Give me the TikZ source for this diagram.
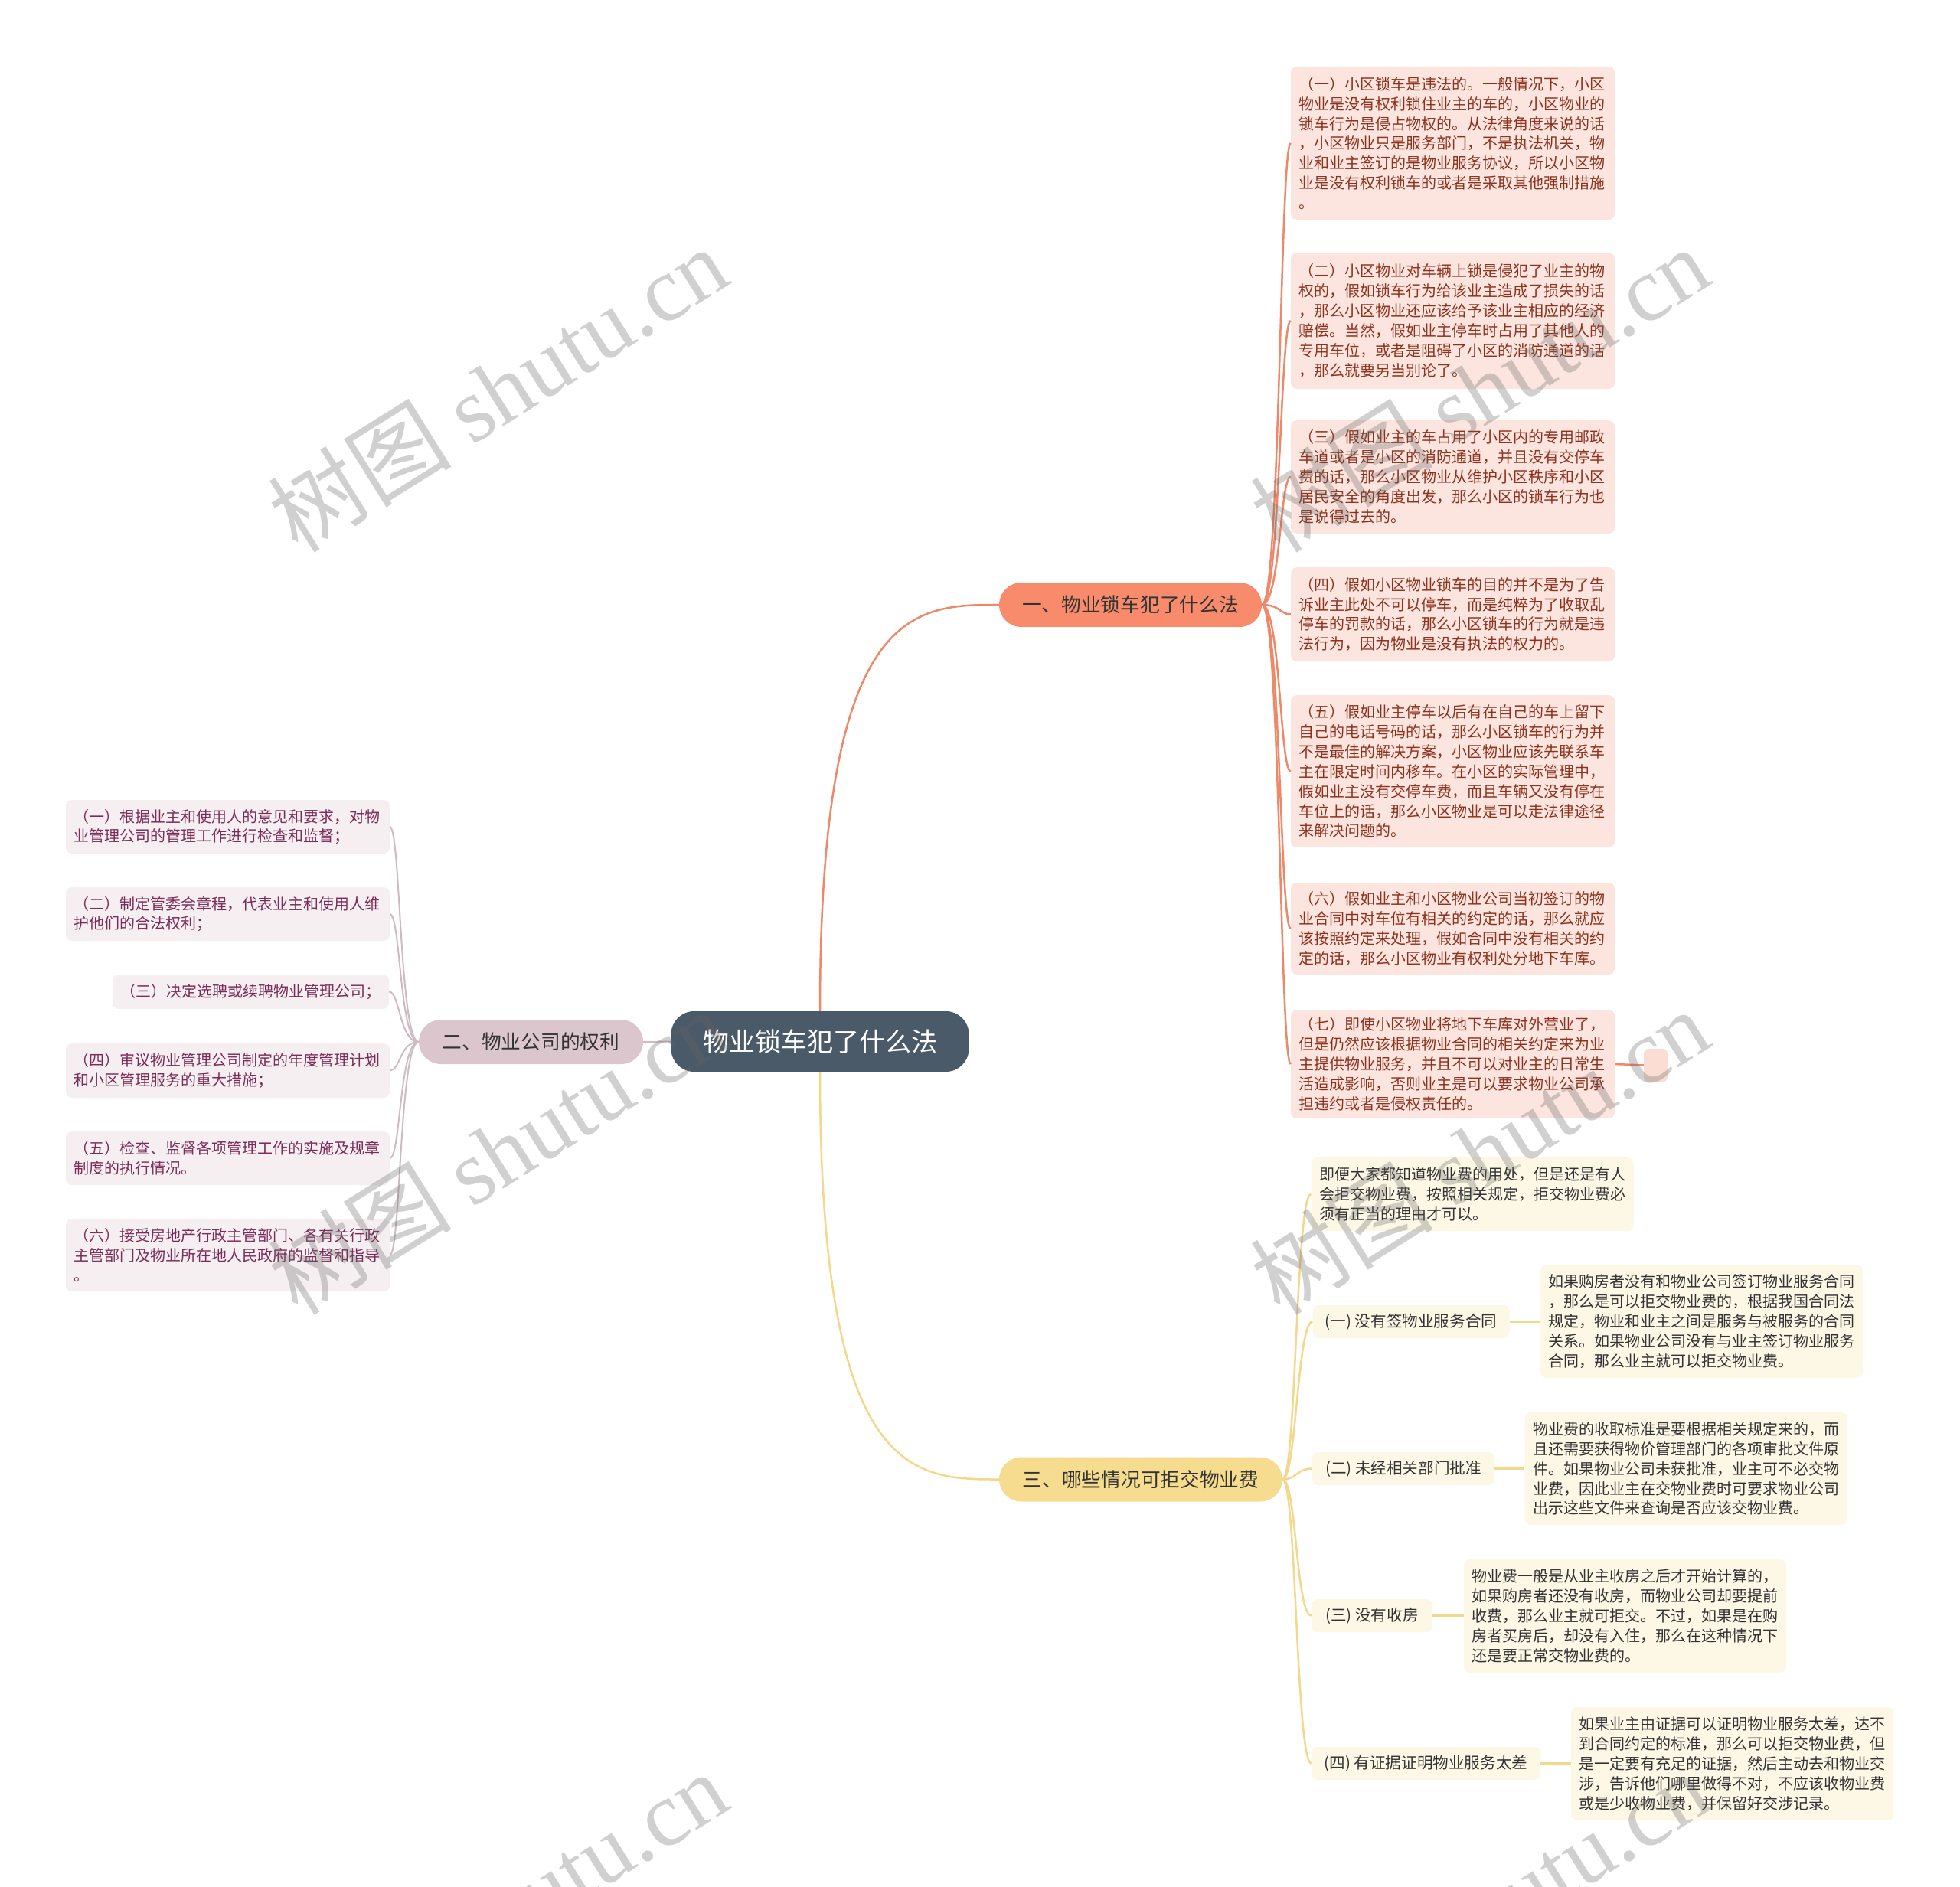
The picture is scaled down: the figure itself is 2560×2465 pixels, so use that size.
\documentclass[tikz,border=0pt]{standalone}
\usepackage{fontspec}
\setmainfont{Noto Sans CJK SC}
\newfontfamily\wmlatin{Liberation Serif}
\usetikzlibrary{positioning}
\definecolor{cRoot}{HTML}{4B5A69}
\definecolor{cTopicA}{HTML}{F98B6D}
\definecolor{cTopicB}{HTML}{DBC6CE}
\definecolor{cTopicC}{HTML}{F6DC8F}
\definecolor{cLockFill}{HTML}{FCE5DF}
\definecolor{cLockText}{HTML}{8C321E}
\definecolor{cRightFill}{HTML}{F6EFF1}
\definecolor{cRightText}{HTML}{7A2D57}
\definecolor{cFeeFill}{HTML}{FDF7E6}
\definecolor{cFeeText}{HTML}{333333}
\definecolor{cLockLine}{HTML}{EE8868}
\definecolor{cRightLine}{HTML}{CDBAC3}
\definecolor{cFeeLine}{HTML}{F3D78B}
\definecolor{cTail}{HTML}{FBDDD4}

\begin{document}
\begin{tikzpicture}[x=1pt,y=-1pt,
 every node/.style={font=\fontsize{20}{25.9}\selectfont,inner sep=0pt},
 root/.style={fill=cRoot,text=white,rounded corners=30pt,minimum width=389pt,minimum height=79pt,font=\fontsize{34}{40}\selectfont},
 topic/.style={rounded corners=29pt,minimum height=58pt,text=cFeeText,font=\fontsize{25.7}{30}\selectfont},
 note/.style={rounded corners=8pt,align=left,text width=402pt,inner xsep=10.5pt},
 lockbox/.style={note,fill=cLockFill,text=cLockText},
 rightbox/.style={note,fill=cRightFill,text=cRightText},
 feebox/.style={note,fill=cFeeFill,text=cFeeText,text width=400pt},
 feeitem/.style={fill=cFeeFill,text=cFeeText,rounded corners=8pt,minimum height=43pt,font=\fontsize{20.6}{25.9}\selectfont},
 lockline/.style={draw=cLockLine,line width=2.5pt},
 rightline/.style={draw=cRightLine,line width=2pt},
 feeline/.style={draw=cFeeLine,line width=2.5pt},
 wm/.style={rotate=32,text=black!60,text opacity=.3,font=\fontsize{120}{126}\selectfont}]

\useasboundingbox (0,0) rectangle (2560,2465);
\fill[white] (0,0) rectangle (2560,2465);

% main topics
\node[root] (root) at (1071,1360.5) {物业锁车犯了什么法};
\node[topic,fill=cTopicA,minimum width=343pt] (lock) at (1476.5,790) {一、物业锁车犯了什么法};
\node[topic,fill=cTopicB,minimum width=293pt] (right) at (693.5,1361) {二、物业公司的权利};
\node[topic,fill=cTopicC,minimum width=370pt] (fee) at (1490,1932.5) {三、哪些情况可拒交物业费};

% branch one
\node[lockbox,minimum height=200pt] (lock1) at (1897.5,187) {
 （一）小区锁车是违法的。一般情况下，小区\\
 物业是没有权利锁住业主的车的，小区物业的\\
 锁车行为是侵占物权的。从法律角度来说的话\\
 ，小区物业只是服务部门，不是执法机关，物\\
 业和业主签订的是物业服务协议，所以小区物\\
 业是没有权利锁车的或者是采取其他强制措施\\
 。};
\node[lockbox,minimum height=178pt] (lock2) at (1897.5,419) {
 （二）小区物业对车辆上锁是侵犯了业主的物\\
 权的，假如锁车行为给该业主造成了损失的话\\
 ，那么小区物业还应该给予该业主相应的经济\\
 赔偿。当然，假如业主停车时占用了其他人的\\
 专用车位，或者是阻碍了小区的消防通道的话\\
 ，那么就要另当别论了。};
\node[lockbox,minimum height=148pt] (lock3) at (1897.5,623) {
 （三）假如业主的车占用了小区内的专用邮政\\
 车道或者是小区的消防通道，并且没有交停车\\
 费的话，那么小区物业从维护小区秩序和小区\\
 居民安全的角度出发，那么小区的锁车行为也\\
 是说得过去的。};
\node[lockbox,minimum height=123pt] (lock4) at (1897.5,802.5) {
 （四）假如小区物业锁车的目的并不是为了告\\
 诉业主此处不可以停车，而是纯粹为了收取乱\\
 停车的罚款的话，那么小区锁车的行为就是违\\
 法行为，因为物业是没有执法的权力的。};
\node[lockbox,minimum height=199pt] (lock5) at (1897.5,1007.5) {
 （五）假如业主停车以后有在自己的车上留下\\
 自己的电话号码的话，那么小区锁车的行为并\\
 不是最佳的解决方案，小区物业应该先联系车\\
 主在限定时间内移车。在小区的实际管理中，\\
 假如业主没有交停车费，而且车辆又没有停在\\
 车位上的话，那么小区物业是可以走法律途径\\
 来解决问题的。};
\node[lockbox,minimum height=120pt] (lock6) at (1897.5,1213) {
 （六）假如业主和小区物业公司当初签订的物\\
 业合同中对车位有相关的约定的话，那么就应\\
 该按照约定来处理，假如合同中没有相关的约\\
 定的话，那么小区物业有权利处分地下车库。};
\node[lockbox,minimum height=142pt] (lock7) at (1897.5,1390) {
 （七）即使小区物业将地下车库对外营业了，\\
 但是仍然应该根据物业合同的相关约定来为业\\
 主提供物业服务，并且不可以对业主的日常生\\
 活造成影响，否则业主是可以要求物业公司承\\
 担违约或者是侵权责任的。};
\node[fill=cTail,rounded corners=6pt,minimum width=31pt,minimum height=43pt] (tail) at (2162.5,1391.5) {};

% branch two
\node[rightbox,minimum height=70pt] (right1) at (297.5,1080) {
 （一）根据业主和使用人的意见和要求，对物\\
 业管理公司的管理工作进行检查和监督；};
\node[rightbox,minimum height=70pt] (right2) at (297.5,1194) {
 （二）制定管委会章程，代表业主和使用人维\\
 护他们的合法权利；};
\node[rightbox,text width=340pt,minimum height=45pt] (right3) at (327.5,1295.5) {
 （三）决定选聘或续聘物业管理公司；};
\node[rightbox,minimum height=71pt] (right4) at (297.5,1398.5) {
 （四）审议物业管理公司制定的年度管理计划\\
 和小区管理服务的重大措施；};
\node[rightbox,minimum height=70pt] (right5) at (297.5,1513) {
 （五）检查、监督各项管理工作的实施及规章\\
 制度的执行情况。};
\node[rightbox,minimum height=95pt] (right6) at (297.5,1639.5) {
 （六）接受房地产行政主管部门、各有关行政\\
 主管部门及物业所在地人民政府的监督和指导\\
 。};

% branch three
\node[feebox,minimum height=96pt] (fee0) at (1923,1560) {
 即便大家都知道物业费的用处，但是还是有人\\
 会拒交物业费，按照相关规定，拒交物业费必\\
 须有正当的理由才可以。};
\node[feeitem,minimum width=257pt] (fee1) at (1843,1726.5) {(一) 没有签物业服务合同};
\node[feeitem,minimum width=238pt] (fee2) at (1833,1918.5) {(二) 未经相关部门批准};
\node[feeitem,minimum width=158pt] (fee3) at (1792,2110.5) {(三) 没有收房};
\node[feeitem,minimum width=299pt] (fee4) at (1862.5,2303.5) {(四) 有证据证明物业服务太差};
\node[feebox,minimum height=148pt] (det1) at (2222.5,1726) {
 如果购房者没有和物业公司签订物业服务合同\\
 ，那么是可以拒交物业费的，根据我国合同法\\
 规定，物业和业主之间是服务与被服务的合同\\
 关系。如果物业公司没有与业主签订物业服务\\
 合同，那么业主就可以拒交物业费。};
\node[feebox,minimum height=147pt] (det2) at (2202,1918.5) {
 物业费的收取标准是要根据相关规定来的，而\\
 且还需要获得物价管理部门的各项审批文件原\\
 件。如果物业公司未获批准，业主可不必交物\\
 业费，因此业主在交物业费时可要求物业公司\\
 出示这些文件来查询是否应该交物业费。};
\node[feebox,minimum height=148pt] (det3) at (2122.5,2111) {
 物业费一般是从业主收房之后才开始计算的，\\
 如果购房者还没有收房，而物业公司却要提前\\
 收费，那么业主就可拒交。不过，如果是在购\\
 房者买房后，却没有入住，那么在这种情况下\\
 还是要正常交物业费的。};
\node[feebox,minimum height=148pt] (det4) at (2262.5,2304) {
 如果业主由证据可以证明物业服务太差，达不\\
 到合同约定的标准，那么可以拒交物业费，但\\
 是一定要有充足的证据，然后主动去和物业交\\
 涉，告诉他们哪里做得不对，不应该收物业费\\
 或是少收物业费，并保留好交涉记录。};

% connectors
\draw[lockline] (root.north) .. controls (root.north |- lock.west) and +(-112,0) .. (lock.west);
\draw[feeline] (root.south) .. controls (root.south |- fee.west) and +(-112,0) .. (fee.west);
\draw[rightline] (root.west) -- (right.east);
\foreach \n in {1,...,7}
 \draw[lockline] (lock.east) .. controls +(24,0) and +(-14,0) .. (lock\n.west);
\draw[lockline] (lock7.east) -- (tail.west);
\foreach \n in {1,...,6}
 \draw[rightline] (right.west) .. controls +(-25,0) and +(14,0) .. (right\n.east);
\foreach \n in {0,...,4}
 \draw[feeline] (fee.east) .. controls +(18,0) and +(-20,0) .. (fee\n.west);
\foreach \n in {1,...,4}
 \draw[feeline] (fee\n.east) -- (fee\n.east -| det\n.west);

% watermarks
\node[wm] (wm1) at (650,508) {树图 {\wmlatin shutu.cn}};
\node[wm] (wm2) at (1932,508) {树图 {\wmlatin shutu.cn}};
\node[wm] (wm3) at (650,1504) {树图 {\wmlatin shutu.cn}};
\node[wm] (wm4) at (1932,1504) {树图 {\wmlatin shutu.cn}};
\node[wm] (wm5) at (650,2500) {树图 {\wmlatin shutu.cn}};
\node[wm] (wm6) at (1932,2500) {树图 {\wmlatin shutu.cn}};
\end{tikzpicture}
\end{document}
